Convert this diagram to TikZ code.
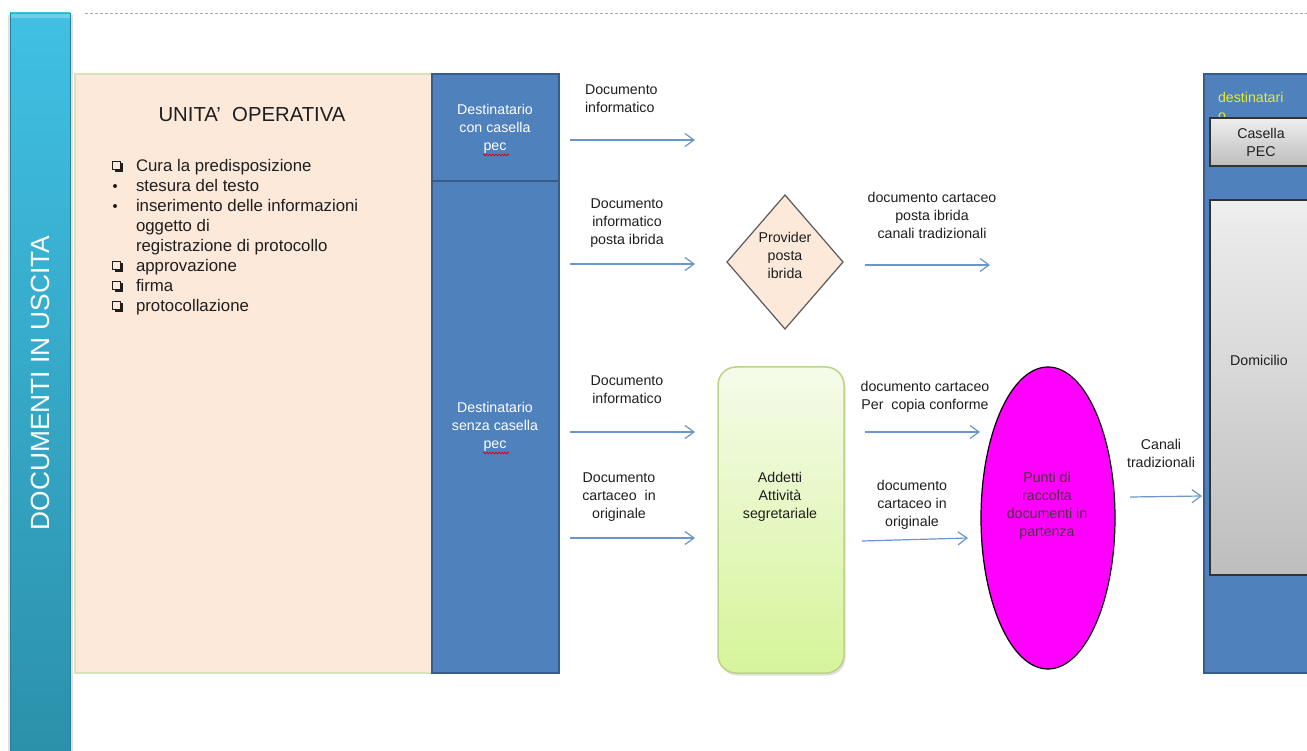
\documentclass[tikz,border=0pt]{standalone}
\usepackage{fontspec}
\setmainfont{Liberation Sans}
\usetikzlibrary{arrows.meta,shapes.geometric,decorations.pathmorphing,shadows}
\definecolor{barTop}{HTML}{40C0E4}
\definecolor{barBot}{HTML}{2B90AA}
\definecolor{barEdge}{HTML}{26809A}
\definecolor{pecblue}{HTML}{4F81BD}
\definecolor{pecborder}{HTML}{385D8A}
\definecolor{arrblue}{HTML}{6A96CC}
\definecolor{peach}{HTML}{FDE9DA}
\definecolor{peachborder}{HTML}{D6E3BC}
\definecolor{greentop}{HTML}{F5FBEA}
\definecolor{greenbot}{HTML}{D6F49A}
\definecolor{greenborder}{HTML}{B9D48A}
\definecolor{diamborder}{HTML}{5A5A5A}
\definecolor{magentaf}{HTML}{FF00FF}
\definecolor{graytop}{HTML}{EEEEEE}
\definecolor{graybot}{HTML}{BDBDBD}
\definecolor{yellowtxt}{HTML}{E2F020}
\definecolor{txt}{HTML}{1E1E1E}
\begin{document}
\begin{tikzpicture}[x=1pt,y=-1pt,
  every node/.style={inner sep=0pt, outer sep=0pt},
  lbl/.style={font=\fontsize{14.2}{18}\selectfont, align=center, text=txt},
  wlbl/.style={font=\fontsize{14.2}{18}\selectfont, align=center, text=white},
  itemtxt/.style={font=\fontsize{16.8}{20}\selectfont, text=txt, anchor=base west},
  arr/.style={draw=arrblue, line width=1.2pt, -{Straight Barb[length=9pt,width=13pt,line width=1.2pt]}},
  bluecell/.style={draw=pecborder, line width=2.2pt, fill=pecblue, anchor=north west},
  graybox/.style={draw=black!80, line width=1.2pt, top color=graytop, bottom color=graybot, anchor=north west},
  squig/.style={draw=red!85!black, line width=0.6pt, decorate, decoration={snake, amplitude=1pt, segment length=3pt}},
  pics/qbox/.style={code={
    \fill[txt] (-2.5,-2.5) rectangle (6,6);
    \fill[peach] (-4.5,-4.5) rectangle (3.6,3.6);
    \draw[txt, line width=1.1pt] (-4.5,-4.5) rectangle (3.8,3.8);
  }}
]
\useasboundingbox (0,0) rectangle (1307,751);
\clip (0,0) rectangle (1307,751);

% top dashed line
\coordinate (dl) at (85,13);
\coordinate (dr) at (1307,13);
\draw[gray!70, line width=0.7pt, dash pattern=on 3pt off 2pt] (dl) -- (dr);

% left bar
\fill[black!12] (8,15) rectangle (73,760);
\node[draw=barEdge, line width=0.8pt, top color=barTop, bottom color=barBot, minimum width=60, minimum height=750, anchor=north west] (bar) at (10,13) {};
\fill[white, opacity=0.25] (10.5,13.5) rectangle (69.5,18);
\node[rotate=90, text=white, font=\fontsize{26.3}{30}\selectfont] (bartxt) at (40,383) {DOCUMENTI IN USCITA};

% unita operativa
\node[draw=peachborder, line width=2.5pt, fill=peach, minimum width=357, minimum height=599, anchor=north west] (uo) at (75,74) {};
\node[font=\fontsize{20.3}{22}\selectfont, text=txt] (uotit) at (252,115) {UNITA'\ \ OPERATIVA};
\node[itemtxt] (l1) at (136,171.5) {Cura la predisposizione};
\node[itemtxt] (l2) at (136,191.5) {stesura del testo};
\node[itemtxt] (l3) at (136,211.5) {inserimento delle informazioni};
\node[itemtxt] (l4) at (136,231.5) {oggetto di};
\node[itemtxt] (l5) at (136,251.5) {registrazione di protocollo};
\node[itemtxt] (l6) at (136,271.5) {approvazione};
\node[itemtxt] (l7) at (136,291.5) {firma};
\node[itemtxt] (l8) at (136,311.5) {protocollazione};
\pic at (117,166) {qbox};
\pic at (117,266) {qbox};
\pic at (117,286) {qbox};
\pic at (117,306) {qbox};
\fill[txt] (115,186) circle (2);
\fill[txt] (115,206) circle (2);

% destinatario column
\node[bluecell, minimum width=127, minimum height=107] (dcon) at (432,74) {};
\node[bluecell, minimum width=127, minimum height=492] (dsenza) at (432,181) {};
\node[wlbl] (dcontxt) at (495,129) {Destinatario\\con casella\\pec};
\draw[squig] (483,155) -- (509,155);
\node[wlbl] (dsenzatxt) at (495,427) {Destinatario\\senza casella\\pec};
\draw[squig] (483,453) -- (509,453);

% diamond
\node[diamond, draw=diamborder, line width=1.2pt, fill=peach, minimum width=116, minimum height=134] (prov) at (785,262) {};
\node[lbl] (provtxt) at (785,255) {Provider\\posta\\ibrida};

% addetti
\node[draw=greenborder, line width=1.5pt, rounded corners=18pt, top color=greentop, bottom color=greenbot, minimum width=126, minimum height=306, anchor=north west, drop shadow={shadow xshift=1.5pt, shadow yshift=-2.5pt, opacity=0.25}] (addetti) at (718,367) {};
\node[lbl] (addettitxt) at (780,497) {Addetti\\Attivit\`a\\segretariale};

% punti di raccolta
\node[ellipse, draw=black, line width=1.2pt, fill=magentaf, minimum width=134, minimum height=302] (punti) at (1048,518) {};
\node[lbl, text=black!85!magenta] (puntitxt) at (1047,506) {Punti di\\raccolta\\documenti in\\partenza};

% right destinatario box
\node[bluecell, minimum width=130, minimum height=599] (dest) at (1204,74) {};
\node[anchor=base west, text=yellowtxt, font=\fontsize{14.2}{18}\selectfont] (desttxt) at (1218,103) {destinatari};
\node[anchor=base west, text=yellowtxt, font=\fontsize{14.2}{18}\selectfont] (desttxt2) at (1218,121) {o};
\node[graybox, minimum width=110, minimum height=48] (casella) at (1210,118) {};
\node[lbl] (casellatxt) at (1261,142) {Casella\\PEC};
\node[graybox, minimum width=110, minimum height=375] (domic) at (1210,200) {};
\node[lbl] (domictxt) at (1259,360) {Domicilio};

% arrows
\coordinate (a1s) at (570,140); \coordinate (a1e) at (695,140);
\coordinate (a2s) at (570,264); \coordinate (a2e) at (695,264);
\coordinate (a3s) at (865,265); \coordinate (a3e) at (990,265);
\coordinate (a4s) at (570,432); \coordinate (a4e) at (695,432);
\coordinate (a5s) at (570,538); \coordinate (a5e) at (695,538);
\coordinate (a6s) at (865,432); \coordinate (a6e) at (980,432);
\coordinate (a7s) at (862,541); \coordinate (a7e) at (968,538);
\coordinate (a8s) at (1130,497); \coordinate (a8e) at (1202,496);
\draw[arr] (a1s) -- (a1e);
\draw[arr] (a2s) -- (a2e);
\draw[arr] (a3s) -- (a3e);
\draw[arr] (a4s) -- (a4e);
\draw[arr] (a5s) -- (a5e);
\draw[arr] (a6s) -- (a6e);
\draw[arr] (a7s) -- (a7e);
\draw[arr] (a8s) -- (a8e);

% arrow labels
\node[lbl, align=left, anchor=west] (t1) at (585,99) {Documento\\informatico};
\node[lbl] (t2) at (627,223) {Documento\\informatico\\posta ibrida};
\node[lbl] (t3) at (932,215) {documento cartaceo\\posta ibrida\\canali tradizionali};
\node[lbl] (t4) at (627,390) {Documento\\informatico};
\node[lbl] (t5) at (619,497) {Documento\\cartaceo\ \ in\\originale};
\node[lbl] (t6) at (925,397) {documento cartaceo\\Per\ \ copia conforme};
\node[lbl] (t7) at (912,505) {documento\\cartaceo in\\originale};
\node[lbl] (t8) at (1161,453) {Canali\\tradizionali};
\end{tikzpicture}
\end{document}
